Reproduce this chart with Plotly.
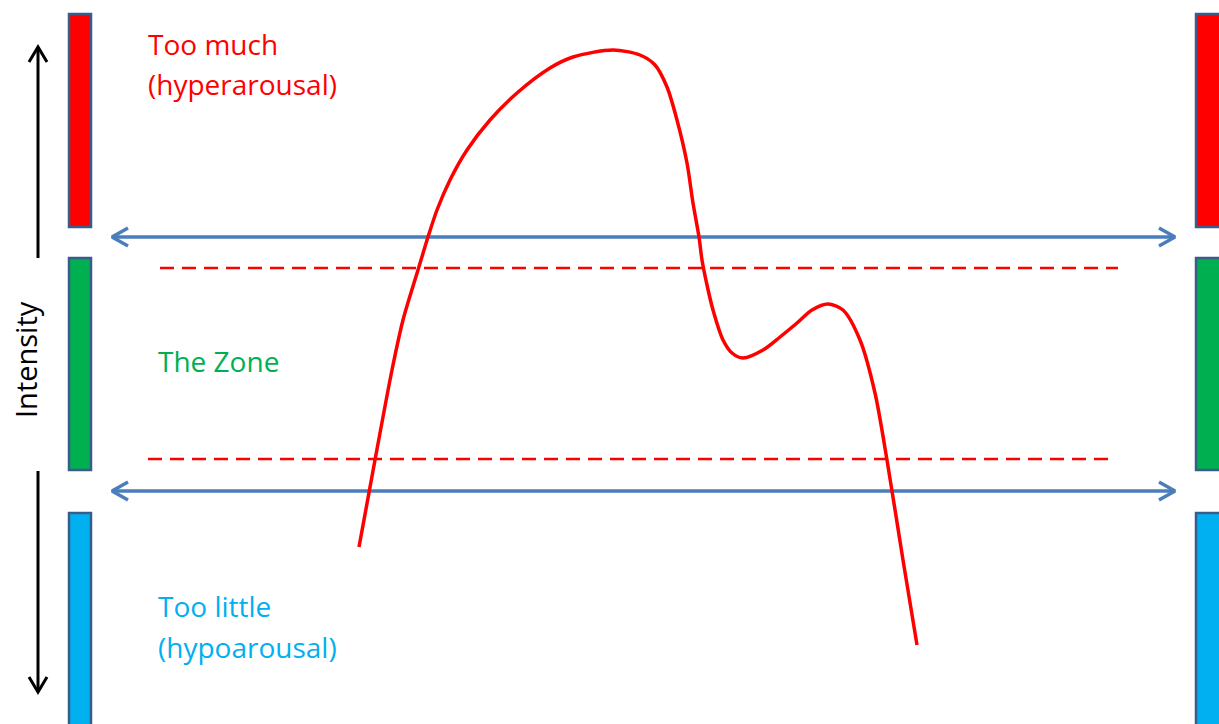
import plotly.graph_objects as go

W, H = 1219, 724

# Zone bands (top, bottom) in diagram units (y grows downward)
zone_names = ["Too much", "The Zone", "Too little"]
zone_colors = ["#FF0000", "#00B050", "#00B0F0"]
zone_top = [14, 258, 513]
zone_bottom = [227, 470, 730]
bar_left_x = [69, 91]
bar_right_x = [1196, 1224]

# Boundary arrows (blue, double headed)
boundary_y = [237, 491]
boundary_x = [112, 1175]

# Window-of-tolerance dashed lines
dash_y = [268, 459]
dash_x0 = [160, 148]
dash_x1 = [1118, 1108]

# Arousal curve
curve_x = [359, 375, 392, 403, 418, 428, 437, 450, 467, 490, 517, 550, 573, 613,
           640, 655, 667, 677, 687, 693, 699, 702, 707, 713, 723, 732, 743, 763, 780, 797,
           812, 828, 843, 860, 875, 887, 903, 917]
curve_y = [547, 460, 370, 320, 270, 237, 210, 180, 150, 120, 93, 68, 57, 50,
           55, 65, 87, 120, 163, 203, 237, 260, 285, 310, 340, 353, 358, 350, 337, 323,
           310, 304, 310, 340, 393, 460, 560, 645]

# Intensity arrows
int_x = 38
up_arrow = [258, 47]
down_arrow = [471, 692]

label_text = ["Too much", "(hyperarousal)", "The Zone", "Too little", "(hypoarousal)"]
label_x = [146, 146, 156, 156, 156]
label_y = [44, 84, 361, 606, 647]
label_color = ["#FF0000", "#FF0000", "#00B050", "#00B0F0", "#00B0F0"]

fig = go.Figure()

for t, b, c in zip(zone_top, zone_bottom, zone_colors):
    for xs in (bar_left_x, bar_right_x):
        fig.add_shape(type="rect", x0=xs[0], x1=xs[1], y0=t, y1=b,
                      fillcolor=c, line=dict(color="#385D8A", width=2.5), layer="below")

for y, a, b in zip(dash_y, dash_x0, dash_x1):
    fig.add_trace(go.Scatter(x=[a, b], y=[y, y], mode="lines",
                             line=dict(color="#FF0000", width=2.5, dash="14px,8px"),
                             hoverinfo="skip"))

blue = "#4A7EBB"
hl, hw = 16, 9
for y in boundary_y:
    fig.add_trace(go.Scatter(x=[boundary_x[0] + 2, boundary_x[1] - 2], y=[y, y], mode="lines",
                             line=dict(color=blue, width=3.5), hoverinfo="skip"))
    for tip, d in ((boundary_x[0], 1), (boundary_x[1], -1)):
        fig.add_trace(go.Scatter(
            x=[tip + d * hl, tip, tip + d * hl],
            y=[y - hw, y, y + hw], mode="lines",
            line=dict(color=blue, width=3.5), hoverinfo="skip"))

ahl, ahw = 15, 9
for (y0, y1) in (up_arrow, down_arrow):
    d = 1 if y1 > y0 else -1
    fig.add_trace(go.Scatter(x=[int_x, int_x], y=[y0, y1], mode="lines",
                             line=dict(color="black", width=3), hoverinfo="skip"))
    fig.add_trace(go.Scatter(x=[int_x - ahw, int_x, int_x + ahw],
                             y=[y1 - d * ahl, y1, y1 - d * ahl], mode="lines",
                             line=dict(color="black", width=3), hoverinfo="skip"))

fig.add_trace(go.Scatter(x=curve_x, y=curve_y, mode="lines",
                         line=dict(color="#FF0000", width=3.5, shape="spline", smoothing=0.8),
                         hoverinfo="skip"))

for t, x, y, c in zip(label_text, label_x, label_y, label_color):
    fig.add_annotation(x=x, y=y, text=t, showarrow=False,
                       xanchor="left", yanchor="middle", align="left",
                       font=dict(family="Open Sans", size=28, color=c))

fig.add_annotation(x=25, y=360, text="Intensity", showarrow=False, textangle=-90,
                   xanchor="center", yanchor="middle",
                   font=dict(family="Open Sans", size=29, color="black"))

fig.update_layout(width=W, height=H, margin=dict(l=0, r=0, t=0, b=0),
                  showlegend=False, plot_bgcolor="white", paper_bgcolor="white",
                  xaxis=dict(range=[0, W], visible=False, fixedrange=True),
                  yaxis=dict(range=[H, 0], visible=False, fixedrange=True))

fig.write_html("out.html", config={"displayModeBar": False},
               post_script="document.body.style.margin='0';document.body.style.overflow='hidden';")
